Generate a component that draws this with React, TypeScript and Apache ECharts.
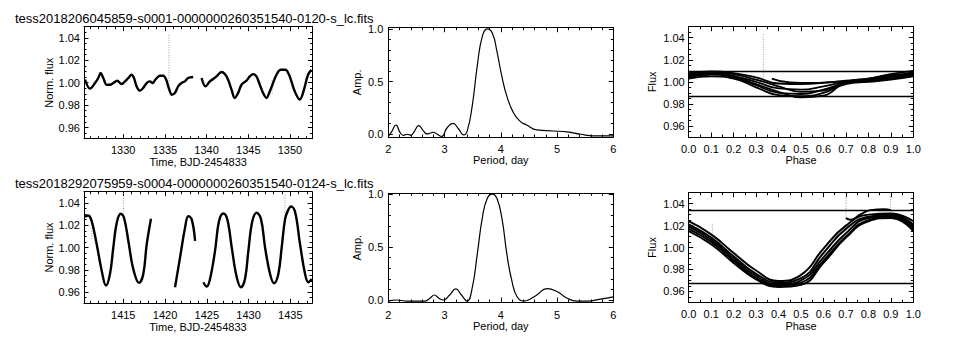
import React, { useEffect, useRef } from "react";
import * as echarts from "echarts";

const FONT = '"Liberation Sans", Arial, Helvetica, sans-serif';

// ---------- titles ----------
const fileTitles = [
  "tess2018206045859-s0001-0000000260351540-0120-s_lc.fits",
  "tess2018292075959-s0004-0000000260351540-0124-s_lc.fits",
];

// ---------- panel 1 : sector 1 light curve ----------
const lc1aTime = [1325.42, 1326.02, 1326.62, 1327.01, 1327.3, 1327.61, 1328.02, 1328.41, 1328.81, 1329.29, 1329.81, 1330.21, 1330.61, 1331.01, 1331.29, 1331.61, 1332.01, 1332.4, 1332.81, 1333.2, 1333.53, 1333.92, 1334.4, 1334.8, 1335.12, 1335.4, 1335.6, 1335.8, 1336.2, 1336.59, 1337.0, 1337.4, 1337.79, 1338.39];
const lc1aFlux = [1.0027, 0.9947, 0.9997, 1.0042, 1.0086, 1.0042, 0.9982, 0.9982, 0.9997, 1.0018, 0.9988, 1.0012, 1.0042, 1.0071, 1.0042, 0.9967, 0.9929, 0.9953, 0.9997, 1.0012, 0.9997, 1.0033, 1.0062, 1.0062, 1.0033, 0.9967, 0.9923, 0.9893, 0.9908, 0.9967, 0.9997, 1.0012, 1.0042, 1.0051];
const lc1bTime = [1339.4, 1339.87, 1340.39, 1340.79, 1341.19, 1341.79, 1342.19, 1342.58, 1342.99, 1343.38, 1343.78, 1344.19, 1344.78, 1345.18, 1345.58, 1345.98, 1346.38, 1346.77, 1347.18, 1347.58, 1347.97, 1348.38, 1348.89, 1349.46, 1349.85, 1350.17, 1350.57, 1351.17, 1351.56, 1352.16, 1352.57];
const lc1bFlux = [1.0042, 0.9967, 1.0012, 1.0033, 1.0056, 1.0095, 1.0077, 1.0027, 0.9938, 0.9864, 0.9908, 0.9982, 1.0018, 1.0056, 1.0077, 1.0056, 0.9982, 0.9908, 0.9864, 0.9923, 0.9997, 1.0071, 1.0115, 1.0115, 1.0077, 1.0012, 0.9923, 0.985, 0.9908, 1.0071, 1.0115];
const lc1SpikeTime = [1335.5, 1347.85];
const lc1SpikeLow = [0.995, 0.99];
const lc1SpikeHigh = [1.044, 1.003];

// ---------- panel 4 : sector 4 light curve ----------
const lc2aTime = [1410.42, 1410.81, 1411.22, 1411.82, 1412.42, 1412.93, 1413.41, 1413.81, 1414.22, 1414.7, 1415.09, 1415.61, 1416.2, 1416.89, 1417.4, 1417.81, 1418.32];
const lc2aFlux = [1.0276, 1.0287, 1.0237, 1.0029, 0.9792, 0.9659, 0.9763, 1.0, 1.0222, 1.0302, 1.0267, 1.0059, 0.9807, 0.9683, 0.9763, 1.0029, 1.0258];
const lc2bTime = [1421.2, 1421.8, 1422.4, 1422.79, 1423.2, 1423.6];
const lc2bFlux = [0.9644, 0.9911, 1.0178, 1.0281, 1.0252, 1.0059];
const lc2cTime = [1424.59, 1425.0, 1425.39, 1425.99, 1426.47, 1426.98, 1427.46, 1427.99, 1428.59, 1429.1, 1429.58, 1429.98, 1430.46, 1430.98, 1431.5, 1431.98, 1432.58, 1433.05, 1433.57, 1433.97, 1434.37, 1434.69, 1435.09, 1435.57, 1436.17, 1436.77, 1437.16, 1437.57];
const lc2cFlux = [0.9689, 0.965, 0.9718, 0.997, 1.0237, 1.0305, 1.0252, 1.0, 0.9733, 0.9644, 0.9718, 0.997, 1.0237, 1.0311, 1.0252, 1.0, 0.9763, 0.968, 0.9763, 1.0, 1.0252, 1.0326, 1.0367, 1.032, 1.0029, 0.9763, 0.9689, 0.9718];
const lc2SpikeTime = [1415.0, 1434.37, 1411.26];
const lc2SpikeLow = [1.03, 1.024, 1.0075];
const lc2SpikeHigh = [1.05, 1.049, 1.018];

// ---------- panels 2 & 5 : periodograms ----------
const pg1Period = [2.0, 2.06, 2.136, 2.21, 2.27, 2.34, 2.4, 2.46, 2.54, 2.62, 2.69, 2.74, 2.8, 2.87, 2.95, 3.04, 3.15, 3.25, 3.34, 3.4, 3.49, 3.58, 3.67, 3.76, 3.85, 3.93, 4.02, 4.11, 4.23, 4.35, 4.46, 4.64, 4.94, 5.18, 5.42, 5.65, 6.0];
const pg1Amp = [-0.02, 0.025, 0.088, 0.015, -0.01, 0.0, -0.01, 0.025, 0.082, 0.035, 0.003, 0.01, 0.019, 0.0, -0.02, 0.057, 0.104, 0.05, -0.006, 0.025, 0.262, 0.642, 0.927, 1.0, 0.96, 0.79, 0.547, 0.357, 0.2, 0.12, 0.088, 0.041, 0.031, 0.022, 0.0, -0.015, -0.015];
const pg2Period = [2.0, 2.15, 2.33, 2.65, 2.74, 2.82, 2.9, 2.98, 3.09, 3.2, 3.3, 3.4, 3.49, 3.58, 3.67, 3.76, 3.85, 3.93, 4.02, 4.11, 4.2, 4.29, 4.4, 4.49, 4.64, 4.82, 5.0, 5.18, 5.36, 5.54, 5.77, 6.0];
const pg2Amp = [-0.01, 0.0, -0.01, -0.01, 0.016, 0.047, 0.016, 0.0, 0.047, 0.104, 0.047, -0.01, 0.11, 0.425, 0.77, 0.96, 1.0, 0.96, 0.77, 0.425, 0.173, 0.03, -0.01, 0.0, 0.047, 0.108, 0.08, 0.016, -0.01, -0.01, 0.009, 0.03];

// ---------- panels 3 & 6 : phase-folded curves ----------
const phaseGrid = [0.0, 0.1, 0.2, 0.3, 0.4, 0.5, 0.6, 0.7, 0.8, 0.9, 1.0];
const ph1Cycles = [
  [1.008, 1.0095, 1.008, 1.004, 0.9985, 0.998, 0.999, 1.001, 1.003, 1.006, 1.008],
  [1.006, 1.008, 1.0055, 1.0, 0.994, 0.993, 0.996, 1.0, 1.002, 1.005, 1.007],
  [1.004, 1.0065, 1.004, 0.997, 0.99, 0.989, 0.993, 0.999, 1.001, 1.003, 1.006],
  [1.003, 1.005, 1.003, 0.995, 0.988, 0.987, 0.99, 0.998, 1.0, 1.002, 1.005],
  [1.005, 1.007, 1.005, 0.998, 0.991, 0.986, 0.9875, 0.999, 1.001, 1.004, 1.009],
  [1.007, 1.009, 1.007, 1.002, 0.996, 0.991, 0.992, 1.0, 1.003, 1.007, 1.01],
];
const ph1PartPhase = [0.37, 0.45, 0.55, 0.65, 0.75, 0.85, 0.95, 1.0];
const ph1PartFlux = [1.003, 0.9995, 0.999, 1.0, 1.001, 1.003, 1.005, 1.006];
const ph1Levels = [1.0098, 0.9865];
const ph1SpikePhase = [0.332];
const ph1SpikeLow = [0.997];
const ph1SpikeHigh = [1.043];

const ph2Cycles = [
  [1.024, 1.012, 0.995, 0.979, 0.9695, 0.975, 0.999, 1.02, 1.03, 1.031, 1.024],
  [1.021, 1.009, 0.992, 0.976, 0.968, 0.972, 0.995, 1.017, 1.028, 1.03, 1.021],
  [1.019, 1.007, 0.99, 0.974, 0.966, 0.97, 0.991, 1.013, 1.027, 1.029, 1.019],
  [1.017, 1.005, 0.988, 0.972, 0.965, 0.968, 0.988, 1.01, 1.025, 1.028, 1.017],
  [1.015, 1.003, 0.986, 0.971, 0.964, 0.966, 0.986, 1.009, 1.024, 1.027, 1.015],
];
const ph2PartPhase = [0.7, 0.72, 0.767, 0.81, 0.87, 0.9];
const ph2PartFlux = [1.0268, 1.0254, 1.0305, 1.0341, 1.035, 1.034];
const ph2Levels = [1.0339, 0.967];
const ph2SpikePhase = [0.7, 0.898, 0.105];
const ph2SpikeLow = [1.026, 1.034, 1.009];
const ph2SpikeHigh = [1.047, 1.047, 1.023];

// ---------- tick labels ----------
const lc1Ticks = [1330, 1335, 1340, 1345, 1350];
const lc2Ticks = [1415, 1420, 1425, 1430, 1435];
const fluxTicks = [0.96, 0.98, 1.0, 1.02, 1.04];
const periodTicks = [2, 3, 4, 5, 6];
const ampTicks = [0.0, 0.5, 1.0];
const phaseTicks = [0.0, 0.1, 0.2, 0.3, 0.4, 0.5, 0.6, 0.7, 0.8, 0.9, 1.0];

function steps(a: number, b: number, s: number): number[] {
  const out: number[] = [];
  const n = Math.round((b - a) / s);
  for (let i = 0; i <= n; i++) out.push(Math.round((a + i * s) * 1e6) / 1e6);
  return out;
}

type Panel = {
  left: number; top: number; width: number; height: number;
  xMin: number; xMax: number; yMin: number; yMax: number;
  xMajor: number[]; xMinor: number[]; yMajor: number[]; yMinor: number[];
  xDigits: number; yDigits: number;
  xName: string; yName: string;
  xNameGap: number; yNameGap: number; xMargin: number; yMargin: number;
};

const panels: Panel[] = [
  { left: 84, top: 26.7, width: 228.5, height: 112, xMin: 1325.3, xMax: 1352.7, yMin: 0.95, yMax: 1.05,
    xMajor: lc1Ticks, xMinor: steps(1326, 1352, 1), yMajor: fluxTicks, yMinor: steps(0.955, 1.045, 0.005),
    xDigits: 0, yDigits: 2, xName: "Time, BJD-2454833", yName: "Norm. flux", xNameGap: 16, yNameGap: 29, xMargin: 6, yMargin: 4 },
  { left: 388.3, top: 27.7, width: 225, height: 109.3, xMin: 2, xMax: 6, yMin: -0.026, yMax: 1.012,
    xMajor: periodTicks, xMinor: steps(2, 6, 0.2), yMajor: ampTicks, yMinor: steps(0, 1, 0.1),
    xDigits: 0, yDigits: 1, xName: "Period, day", yName: "Amp.", xNameGap: 15, yNameGap: 26, xMargin: 6, yMargin: 5 },
  { left: 688.7, top: 26.7, width: 224.6, height: 110.3, xMin: 0, xMax: 1, yMin: 0.95, yMax: 1.05,
    xMajor: phaseTicks, xMinor: steps(0, 1, 0.05), yMajor: fluxTicks, yMinor: steps(0.955, 1.045, 0.005),
    xDigits: 1, yDigits: 2, xName: "Phase", yName: "Flux", xNameGap: 17, yNameGap: 31, xMargin: 6, yMargin: 4 },
  { left: 84, top: 191.7, width: 228, height: 111.6, xMin: 1410.3, xMax: 1437.6, yMin: 0.95, yMax: 1.05,
    xMajor: lc2Ticks, xMinor: steps(1411, 1437, 1), yMajor: fluxTicks, yMinor: steps(0.955, 1.045, 0.005),
    xDigits: 0, yDigits: 2, xName: "Time, BJD-2454833", yName: "Norm. flux", xNameGap: 17, yNameGap: 29, xMargin: 6, yMargin: 4 },
  { left: 388.3, top: 193.3, width: 225, height: 108.7, xMin: 2, xMax: 6, yMin: -0.019, yMax: 1.007,
    xMajor: periodTicks, xMinor: steps(2, 6, 0.2), yMajor: ampTicks, yMinor: steps(0, 1, 0.1),
    xDigits: 0, yDigits: 1, xName: "Period, day", yName: "Amp.", xNameGap: 17, yNameGap: 26, xMargin: 7, yMargin: 5 },
  { left: 688.7, top: 192.7, width: 224.6, height: 109.6, xMin: 0, xMax: 1, yMin: 0.95, yMax: 1.05,
    xMajor: phaseTicks, xMinor: steps(0, 1, 0.05), yMajor: fluxTicks, yMinor: steps(0.955, 1.045, 0.005),
    xDigits: 1, yDigits: 2, xName: "Phase", yName: "Flux", xNameGap: 17, yNameGap: 31, xMargin: 6, yMargin: 4 },
];

const BLACK = "#000";
const textStyle = { fontSize: 11, color: BLACK, fontFamily: FONT };

function buildAxes() {
  const xAxis: any[] = [];
  const yAxis: any[] = [];
  panels.forEach((p, gi) => {
    const mk = (dim: "x" | "y", pos: string, values: number[], major: boolean, main: boolean) => {
      const isX = dim === "x";
      return {
        type: "value",
        gridIndex: gi,
        position: pos,
        min: isX ? p.xMin : p.yMin,
        max: isX ? p.xMax : p.yMax,
        splitLine: { show: false },
        axisPointer: { show: false },
        axisLine: { show: major, onZero: false, lineStyle: { color: BLACK, width: 1 } },
        axisTick: { show: true, inside: true, length: major ? 4.5 : 2.5, customValues: values, lineStyle: { color: BLACK, width: 1 } },
        axisLabel: main
          ? { show: true, customValues: values, margin: isX ? p.xMargin : p.yMargin, ...textStyle,
              formatter: (v: number) => v.toFixed(isX ? p.xDigits : p.yDigits) }
          : { show: false },
        name: main ? (isX ? p.xName : p.yName) : "",
        nameLocation: "middle",
        nameGap: isX ? p.xNameGap : p.yNameGap,
        nameTextStyle: textStyle,
      };
    };
    xAxis.push(mk("x", "bottom", p.xMajor, true, true));
    xAxis.push(mk("x", "bottom", p.xMinor, false, false));
    xAxis.push(mk("x", "top", p.xMajor, true, false));
    xAxis.push(mk("x", "top", p.xMinor, false, false));
    yAxis.push(mk("y", "left", p.yMajor, true, true));
    yAxis.push(mk("y", "left", p.yMinor, false, false));
    yAxis.push(mk("y", "right", p.yMajor, true, false));
    yAxis.push(mk("y", "right", p.yMinor, false, false));
  });
  return { xAxis, yAxis };
}

function zip(xs: number[], ys: number[]) {
  return xs.map((x, i) => [x, ys[i]]);
}

function curve(panel: number, data: number[][], width: number, smooth: number, extra: any = {}) {
  return {
    type: "line",
    xAxisIndex: panel * 4,
    yAxisIndex: panel * 4,
    data,
    showSymbol: false,
    symbol: "none",
    smooth,
    silent: true,
    lineStyle: { color: BLACK, width },
    ...extra,
  };
}

function spikes(panel: number, xs: number[], lo: number[], hi: number[]) {
  return xs.map((x, i) =>
    curve(panel, [[x, lo[i]], [x, hi[i]]], 1, 0, { lineStyle: { color: "#9a9a9a", width: 1, type: [1, 1.5] } })
  );
}

function levels(panel: number, vals: number[]) {
  return curve(panel, [], 1, 0, {
    markLine: {
      silent: true,
      symbol: "none",
      precision: 6,
      label: { show: false },
      lineStyle: { color: BLACK, width: 1.3, type: "solid" },
      data: vals.map((v) => ({ yAxis: v })),
    },
  });
}

function buildOption() {
  const { xAxis, yAxis } = buildAxes();
  const series: any[] = [];
  const LC_W = 2.4;
  // panel 1
  series.push(...spikes(0, lc1SpikeTime, lc1SpikeLow, lc1SpikeHigh));
  series.push(curve(0, zip(lc1aTime, lc1aFlux), LC_W, 0.35));
  series.push(curve(0, zip(lc1bTime, lc1bFlux), LC_W, 0.35));
  // panel 2
  series.push(curve(1, zip(pg1Period, pg1Amp), 1.2, 0.5));
  // panel 3
  series.push(levels(2, ph1Levels));
  series.push(...spikes(2, ph1SpikePhase, ph1SpikeLow, ph1SpikeHigh));
  ph1Cycles.forEach((c) => series.push(curve(2, zip(phaseGrid, c), 1.8, 0.5)));
  series.push(curve(2, zip(ph1PartPhase, ph1PartFlux), 1.8, 0.5));
  // panel 4
  series.push(...spikes(3, lc2SpikeTime, lc2SpikeLow, lc2SpikeHigh));
  series.push(curve(3, zip(lc2aTime, lc2aFlux), LC_W, 0.4));
  series.push(curve(3, zip(lc2bTime, lc2bFlux), LC_W, 0.4));
  series.push(curve(3, zip(lc2cTime, lc2cFlux), LC_W, 0.4));
  // panel 5
  series.push(curve(4, zip(pg2Period, pg2Amp), 1.2, 0.5));
  // panel 6
  series.push(levels(5, ph2Levels));
  series.push(...spikes(5, ph2SpikePhase, ph2SpikeLow, ph2SpikeHigh));
  ph2Cycles.forEach((c) => series.push(curve(5, zip(phaseGrid, c), 2, 0.5)));
  series.push(curve(5, zip(ph2PartPhase, ph2PartFlux), 2, 0.5));

  const titleStyle = (text: string) => ({
    text, fontSize: 13, lineHeight: 11, fontFamily: FONT, fill: BLACK, verticalAlign: "middle",
  });

  return {
    animation: false,
    backgroundColor: "#fff",
    grid: panels.map((p) => ({ left: p.left, top: p.top, width: p.width, height: p.height, containLabel: false })),
    xAxis,
    yAxis,
    series,
    graphic: [
      { type: "text", x: 15, y: 18, silent: true, style: titleStyle(fileTitles[0]) },
      { type: "text", x: 15, y: 183.5, silent: true, style: titleStyle(fileTitles[1]) },
    ],
  };
}

export default function App() {
  const ref = useRef<HTMLDivElement>(null);
  useEffect(() => {
    if (!ref.current) return;
    const chart = echarts.init(ref.current, null, { renderer: "svg" });
    chart.setOption(buildOption());
    return () => chart.dispose();
  }, []);
  return (
    <div
      ref={ref}
      style={{ position: "fixed", left: 0, top: 0, width: 976, height: 355, background: "#fff" }}
    />
  );
}
